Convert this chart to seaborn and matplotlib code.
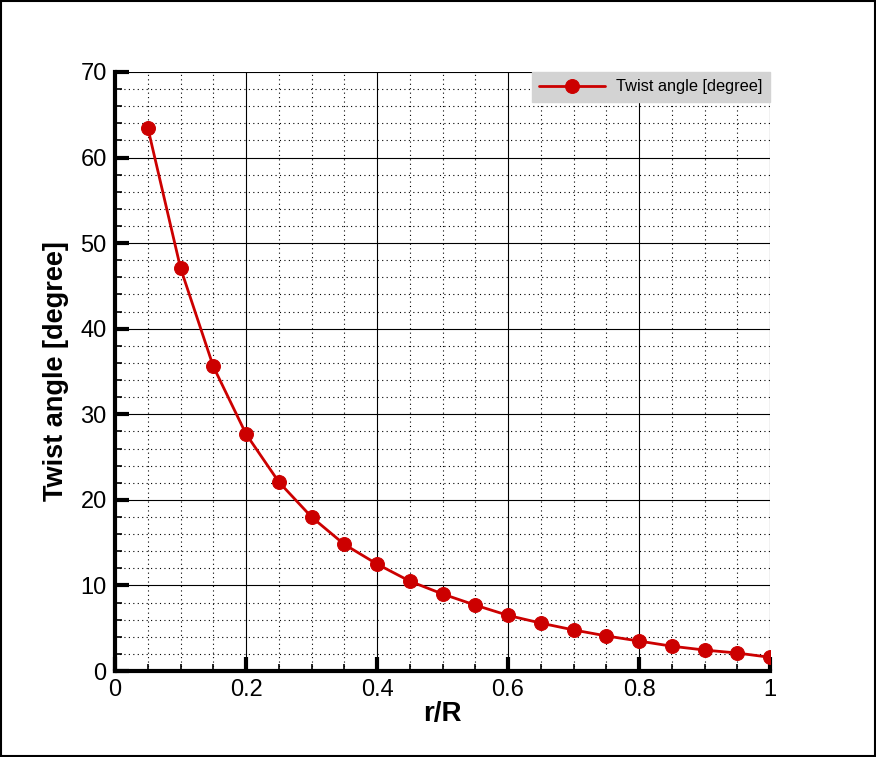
import matplotlib
matplotlib.use("Agg")
import matplotlib.pyplot as plt
import seaborn as sns
import pandas as pd
from matplotlib.ticker import MultipleLocator

r_R = [0.05, 0.10, 0.15, 0.20, 0.25, 0.30, 0.35, 0.40, 0.45, 0.50,
       0.55, 0.60, 0.65, 0.70, 0.75, 0.80, 0.85, 0.90, 0.95, 1.00]
twist = [63.5, 47.1, 35.6, 27.7, 22.1, 18.0, 14.8, 12.5, 10.5, 9.0,
         7.7, 6.5, 5.6, 4.8, 4.1, 3.5, 2.9, 2.45, 2.1, 1.6]
series_name = "Twist angle [degree]"
x_ticklabels = ["0", "0.2", "0.4", "0.6", "0.8", "1"]

df = pd.DataFrame({"r/R": r_R, "twist": twist, "series": series_name})

sns.set_style("white")
plt.rcParams['font.family'] = ['Liberation Sans', 'DejaVu Sans']
plt.rcParams['text.color'] = 'black'
plt.rcParams['axes.labelcolor'] = 'black'
plt.rcParams['xtick.color'] = 'black'
plt.rcParams['ytick.color'] = 'black'

fig = plt.figure(figsize=(8.76, 7.57), dpi=100)
ax = fig.add_axes([0.1313, 0.1136, 0.879 - 0.1313, 0.9049 - 0.1136])

sns.lineplot(data=df, x="r/R", y="twist", hue="series", palette=["#cc0000"],
             marker="o", markersize=10, markeredgecolor="#cc0000",
             linewidth=2, ax=ax, zorder=5)

ax.set_xlim(0, 1)
ax.set_ylim(0, 70)
ax.xaxis.set_minor_locator(MultipleLocator(0.05))
ax.yaxis.set_major_locator(MultipleLocator(10))
ax.yaxis.set_minor_locator(MultipleLocator(2))
ax.set_xticks([0, 0.2, 0.4, 0.6, 0.8, 1.0])
ax.set_xticklabels(x_ticklabels)

ax.grid(which="major", color="black", linestyle="-", linewidth=0.8)
ax.grid(which="minor", color="black", linestyle=(0, (1, 3)), linewidth=0.8)
ax.set_axisbelow(True)

for s in ["top", "right"]:
    ax.spines[s].set_visible(False)
for s in ["left", "bottom"]:
    ax.spines[s].set_linewidth(3)
    ax.spines[s].set_color("black")
    ax.spines[s].set_zorder(6)

ax.tick_params(which="major", direction="in", length=10, width=3,
               labelsize=17, pad=6, colors="black")
ax.tick_params(which="minor", direction="in", length=5, width=1.2)
ax.tick_params(axis="x", which="both", bottom=True)
ax.tick_params(axis="y", which="both", left=True)

ax.set_xlabel("r/R", fontsize=20, fontweight="bold", labelpad=0)
ax.set_ylabel("Twist angle [degree]", fontsize=19.5, fontweight="bold", labelpad=8)

leg = ax.legend(loc="upper right", frameon=True, fontsize=11.8,
                borderaxespad=0, fancybox=False, handlelength=4.0,
                borderpad=0.45, handletextpad=0.7, title=None)
leg.get_frame().set_facecolor("#d3d3d3")
leg.get_frame().set_edgecolor("#d3d3d3")
leg.get_frame().set_alpha(1)
leg.set_zorder(10)

fig.patches.append(plt.Rectangle((0.001, 0.001), 0.998, 0.998, transform=fig.transFigure,
                                 fill=False, edgecolor="black", linewidth=1.5))

fig.savefig("out.png", dpi=100)
